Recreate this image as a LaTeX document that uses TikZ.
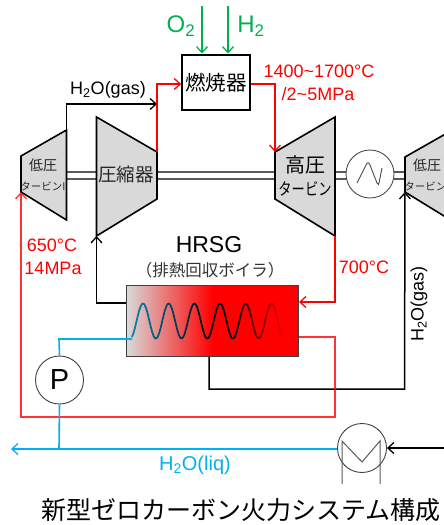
\documentclass[tikz,border=0pt]{standalone}
\usepackage{fontspec}
\setmainfont{Liberation Sans}
\newfontfamily\jp{Noto Sans CJK JP}
\usetikzlibrary{arrows.meta}
\definecolor{myred}{RGB}{255,0,0}
\definecolor{myblue}{RGB}{0,176,240}
\definecolor{mygreen}{RGB}{0,176,80}
\definecolor{mygray}{RGB}{217,217,217}
\newcommand{\fs}[1]{\fontsize{#1}{#1}\selectfont}
\pgfdeclarehorizontalshading{hrsgshade}{100bp}{
 color(0bp)=(mygray); color(25bp)=(mygray); color(50bp)=(myred); color(100bp)=(myred)}
\tikzset{
 openarrow/.style={-{Straight Barb[length=6pt,width=11pt,line width=1.3pt]}},
 blk/.style={draw=black,line width=1.5pt},
 redl/.style={draw=myred,line width=1.6pt},
 bluel/.style={draw=myblue,line width=1.6pt},
 greenl/.style={draw=mygreen,line width=1.5pt},
 machine/.style={draw=black,line width=1.6pt,fill=mygray,line join=miter},
 shaft/.style={draw=black!65,line width=1.3pt},
 ring/.style={circle,draw=black!75,line width=0.9pt,fill=white,minimum size=48pt,inner sep=0pt},
 lbl/.style={inner sep=0pt,align=center},
 redt/.style={lbl,text=myred,font=\fs{18}},
}
\begin{document}
\begin{tikzpicture}[x=1pt,y=-1pt]
\useasboundingbox (0,0) rectangle (444,525);
\begin{scope}
\clip (0,0) rectangle (444,525);
% key points
\coordinate (ltTL) at (66.5,130); \coordinate (ltTR) at (21,156);
\coordinate (ltBR) at (66.5,220); \coordinate (ltBL) at (21,192);
\coordinate (cTL) at (96.5,117); \coordinate (cTR) at (157,152);
\coordinate (cBR) at (157,199); \coordinate (cBL) at (96.5,236);
\coordinate (hTL) at (275,152); \coordinate (hTR) at (335,117);
\coordinate (hBR) at (335,236); \coordinate (hBL) at (275,199);
\coordinate (rTL) at (405,157); \coordinate (rTR) at (470,120);
\coordinate (rBR) at (470,232); \coordinate (rBL) at (405,192);
\node[ring,draw=black!70] (gen) at (370,174) {};
% shafts
\foreach \yy in {172,179}{
 \draw[shaft] (66.5,\yy) -- (96.5,\yy);
 \draw[shaft] (157,\yy) -- (275,\yy);
 \draw[shaft] (335,\yy) -- (346,\yy);
 \draw[shaft] (394,\yy) -- (405,\yy);
}
% machines
\draw[machine] (ltTL) -- (ltTR) -- (ltBL) -- (ltBR) -- cycle;
\draw[machine] (cTL) -- (cTR) -- (cBR) -- (cBL) -- cycle;
\draw[machine] (hTL) -- (hTR) -- (hBR) -- (hBL) -- cycle;
\fill[mygray] (rTR) -- (rTL) -- (rBL) -- (rBR) -- cycle;
\draw[draw=black,line width=1.6pt] (rTR) -- (rTL) -- (rBL) -- (rBR);
% generator
\draw[black!70,line width=0.9pt] (357,183) -- (366,165) .. controls (367,162) and (369,162) .. (370,165) -- (377,183) .. controls (378,185) and (379,185) .. (379,183) -- (382,168);
% burner
\node[draw=black,line width=1.6pt,fill=white,minimum width=68pt,minimum height=55pt,inner sep=0pt,font=\jp\fs{20.5}] (burner) at (216,82.5) {燃焼器};
% fuel arrows
\coordinate (o2s) at (202,6); \coordinate (h2s) at (228,6);
\coordinate (o2e) at (202,53.5); \coordinate (h2e) at (228,53.5);
\draw[greenl,openarrow] (o2s) -- (o2e);
\draw[greenl,openarrow] (h2s) -- (h2e);
\node[lbl,text=mygreen,font=\fs{24}] (o2t) at (181,26) {O\textsubscript{2}};
\node[lbl,text=mygreen,font=\fs{24}] (h2t) at (251,26) {H\textsubscript{2}};
% HRSG
\node[draw=black!75,line width=1pt,shading=hrsgshade,minimum width=172pt,minimum height=71pt,inner sep=0pt] (hrsg) at (212.5,321) {};
% turbines connectors
\coordinate (gasTop) at (66.5,104); \coordinate (gasEnd) at (157,104);
\draw[blk,openarrow] (ltTL) -- (gasTop) -- (gasEnd);
\coordinate (rA) at (157,84);
\draw[redl,openarrow] (cTR) -- (rA) -- (burner.west |- rA);
\coordinate (rB) at (275,84);
\draw[redl,openarrow] (burner.east |- rB) -- (rB) -- (hTL);
\coordinate (rC) at (335,302);
\draw[redl,openarrow] (hBR) -- (rC) -- (hrsg.east |- rC);
% compressor feed
\coordinate (cF) at (96.5,303);
\draw[blk,openarrow] (hrsg.west |- cF) -- (cF) -- (cBL);
% HRSG out black
\coordinate (bA) at (209,389); \coordinate (bB) at (404.5,389);
\draw[blk,openarrow] (hrsg.south -| bA) -- (bA) -- (bB) -- (rBL);
% red loop
\coordinate (oA) at (335,337); \coordinate (oB) at (335,417); \coordinate (oC) at (21,417);
\draw[redl,draw opacity=.8,openarrow] (hrsg.east |- oA) -- (oA) -- (oB) -- (oC) -- (ltBL);
% pump
\node[ring,font=\fs{29}] (pump) at (59.5,380) {P};
% condenser
\node[ring,minimum size=49pt,fill=none] (cond) at (362,448) {};
\coordinate (wIn) at (132,339);
\coordinate (pA) at (59,339);
\draw[bluel] (pump.north) -- (pA) -- (wIn);
% water main
\coordinate (mA) at (59,449); \coordinate (mEnd) at (11,449);
\draw[bluel] (pump.south) -- (mA);
\draw[bluel,openarrow] (cond.west |- mA) -- (mEnd);
% condenser incoming
\coordinate (cIn) at (444,448);
\draw[blk,openarrow] (cIn) -- (cond.east);
\draw[black!65,line width=1pt] (342,484) -- (342,441) -- (362,462) -- (380,441) -- (380,484);
% wave
\foreach \xx in {132,...,284}{
 \pgfmathtruncatemacro{\nx}{\xx+1}
 \pgfmathsetmacro{\ya}{321-17.5*cos(14.008*(\xx-143))}
 \pgfmathsetmacro{\yb}{321-17.5*cos(14.008*(\nx-143))}
 \pgfmathtruncatemacro{\pa}{\xx<215 ? (215-\xx)*0.9 : 0}
 \pgfmathtruncatemacro{\pb}{\xx>235 ? (\xx-235)*2 : 0}
 \ifnum\pa>0
  \draw[color={myblue!\pa!black},line width=1.7pt,line cap=round] (\xx,\ya) -- (\nx,\yb);
 \else
  \draw[color={myred!\pb!black},line width=1.7pt,line cap=round] (\xx,\ya) -- (\nx,\yb);
 \fi
}
% labels
\node[lbl,font=\fs{18}] (gasL) at (108,90) {H\textsubscript{2}O(gas)};
\node[redt] (t1) at (319,71) {1400\textasciitilde1700°C};
\node[redt] (t2) at (318,94) {/2\textasciitilde5MPa};
\node[redt] (t3) at (52,245) {650°C};
\node[redt] (t4) at (53,268) {14MPa};
\node[redt] (t5) at (364,267) {700°C};
\node[lbl,font=\fs{23}] (hl) at (209,245) {HRSG};
\node[lbl,font=\jp\fs{16.5},text=black!80] (hl2) at (210,270) {（排熱回収ボイラ）};
\node[lbl,font=\fs{18},rotate=90] (gasV) at (419,304) {H\textsubscript{2}O(gas)};
\node[lbl,text=myblue,font=\fs{20}] (liq) at (195,465) {H\textsubscript{2}O(liq)};
\node[lbl,font=\jp\fs{14},text=black!85] (a1) at (43,165) {低圧};
\node[lbl,font=\jp\fs{10.5},text=black!85] (a2) at (43,186) {タービンI};
\node[lbl,font=\jp\fs{18.5},text=black!85] (a3) at (126,174) {圧縮器};
\node[lbl,font=\jp\fs{20}] (a4) at (305,165) {高圧};
\node[lbl,font=\jp\fs{17}] (a5) at (305,189) {\scalebox{0.78}[1]{タービン}};
\node[lbl,font=\jp\fs{14},text=black!85] (a6) at (427,165) {低圧};
\node[lbl,font=\jp\fs{10.5},text=black!85] (a7) at (427,186) {タービンI};
\node[lbl,font=\jp\fs{25}] (title) at (241,510) {新型ゼロカーボン火力システム構成};
\end{scope}
\end{tikzpicture}
\end{document}
